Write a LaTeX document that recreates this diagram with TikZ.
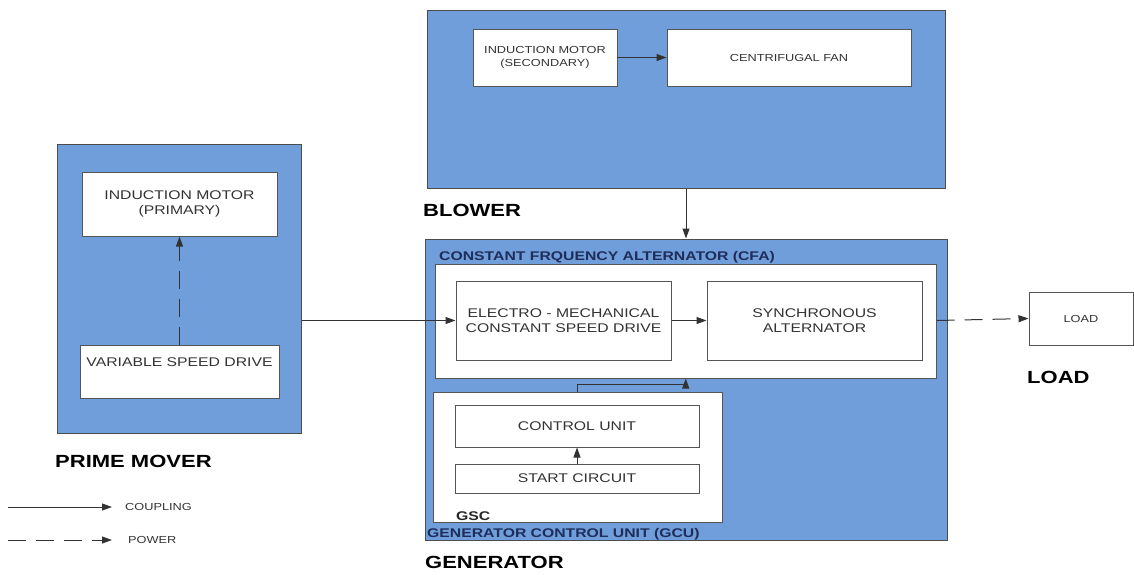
\documentclass[tikz,border=0pt]{standalone}
\usepackage{fontspec}
\setmainfont{Liberation Sans}[FakeStretch=1.25]
\usetikzlibrary{arrows.meta}

\definecolor{panelblue}{RGB}{112,158,218}
\definecolor{boxline}{RGB}{85,85,85}
\definecolor{navytext}{RGB}{30,45,90}

\begin{document}
\begin{tikzpicture}[x=1pt, y=-1pt,
    panel/.style={draw=black!70, fill=panelblue, line width=1pt, inner sep=0pt},
    blockbox/.style={draw=boxline, fill=white, line width=1pt, align=center, inner sep=0pt,
        text=black!80, font=\fontsize{12.6}{15}\selectfont},
    smallbox/.style={blockbox, font=\fontsize{10.2}{13}\selectfont},
    title/.style={anchor=west, inner sep=0pt, font=\fontsize{17.6}{20}\selectfont\bfseries},
    subtitle/.style={anchor=west, inner sep=0pt, text=navytext, font=\fontsize{12.6}{15}\selectfont\bfseries},
    legendtext/.style={anchor=west, inner sep=0pt, text=black!80, font=\fontsize{10.2}{13}\selectfont},
    coupling/.style={draw=black!80, line width=1pt, -{Triangle[length=10pt,width=7pt]}},
    power/.style={coupling, dash pattern=on 18pt off 10pt}]
    \useasboundingbox (0,0) rectangle (1134,574);

    % prime mover
    \node[panel, minimum width=244, minimum height=289] (pm) at (179,288.5) {};
    \node[blockbox, minimum width=195, minimum height=64] (imp) at (179.5,204) {INDUCTION MOTOR\\(PRIMARY)};
    \node[blockbox, minimum width=199, minimum height=53] (vsd) at (179.5,371.5) {VARIABLE SPEED DRIVE\\ \strut};
    \node[title] (pmlabel) at (55,461) {PRIME MOVER};

    % blower
    \node[panel, minimum width=518, minimum height=178] (blower) at (686,99) {};
    \node[smallbox, minimum width=144, minimum height=57] (ims) at (545,57.5) {INDUCTION MOTOR\\(SECONDARY)};
    \node[smallbox, minimum width=244, minimum height=57] (fan) at (789,57.5) {CENTRIFUGAL FAN};
    \node[title] (blowerlabel) at (423,210) {BLOWER};

    % generator
    \node[panel, minimum width=522, minimum height=301] (gen) at (686,389.5) {};
    \node[subtitle] (cfalabel) at (439,257) {CONSTANT FRQUENCY ALTERNATOR (CFA)};
    \node[blockbox, minimum width=500.5, minimum height=114] (cfa) at (685.75,321) {};
    \node[blockbox, minimum width=215, minimum height=79] (ecsd) at (563.5,320.5) {ELECTRO - MECHANICAL\\CONSTANT SPEED DRIVE};
    \node[blockbox, minimum width=215, minimum height=79] (alt) at (814.5,320.5) {SYNCHRONOUS\\ALTERNATOR};
    \node[blockbox, minimum width=289, minimum height=130] (gsc) at (577.5,457) {};
    \node[blockbox, minimum width=244, minimum height=42] (cu) at (577,426) {CONTROL UNIT};
    \node[blockbox, minimum width=244, minimum height=29] (sc) at (577,478.5) {START CIRCUIT};
    \node[subtitle, text=black!85] (gsclabel) at (456,516) {GSC};
    \node[subtitle] (gculabel) at (427,534) {GENERATOR CONTROL UNIT (GCU)};
    \node[title] (genlabel) at (425,562) {GENERATOR};

    % load
    \node[smallbox, minimum width=104, minimum height=53] (load) at (1081,318.5) {LOAD};
    \node[title] (loadlabel) at (1027,377) {LOAD};

    % connectors
    \draw[power] (vsd.north) -- (imp.south);
    \draw[coupling] (ims.east) -- (fan.west);
    \draw[coupling] (blower.south) -- (gen.north);
    \draw[coupling] (ecsd.west -| pm.east) -- (ecsd.west);
    \draw[coupling] (ecsd.east) -- (alt.west);
    \draw[coupling] (sc.north) -- (cu.south);
    \draw[coupling] (gsc.north) -- ++(0,-7) -| (cfa.south);
    \draw[power] (alt.east -| cfa.east) -- (load.west);

    % legend
    \coordinate (cplstart) at (8,507);
    \coordinate (pwrstart) at (8,540);
    \node[legendtext] (cpltext) at (125,507) {COUPLING};
    \node[legendtext] (pwrtext) at (128,540) {POWER};
    \draw[coupling] (cplstart) -- ++(104,0);
    \draw[power] (pwrstart) -- ++(104,0);
\end{tikzpicture}
\end{document}
